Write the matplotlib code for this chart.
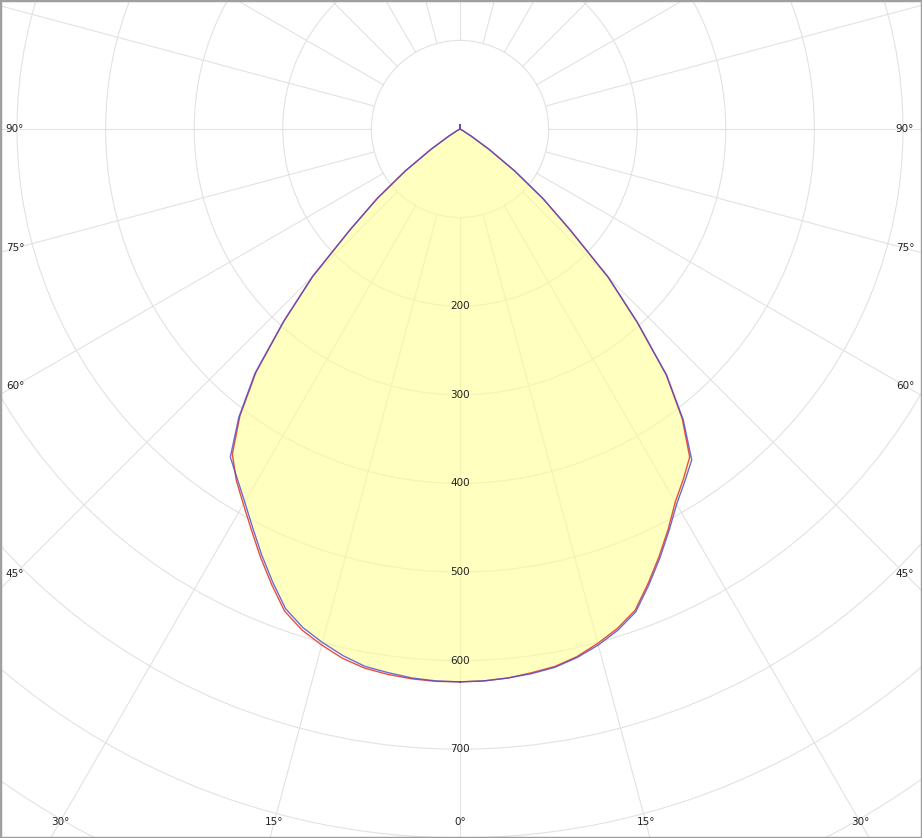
import numpy as np
import matplotlib.pyplot as plt
from matplotlib.patches import Circle

# luminous intensity (cd) vs gamma angle (2.5 deg steps), four half-planes
gamma = np.arange(0, 182.5, 2.5)
tail = [0] * 46 + [5]
c0 = [624, 623.5, 622, 619, 616, 610, 601, 591, 578, 555, 532, 509, 486,
      469, 452, 412, 362, 296, 236, 168, 122, 78, 40, 15, 4, 1] + tail
c180 = [624, 624, 623, 621, 618, 612, 603, 593, 579, 556, 533, 510, 489,
        470, 448, 408, 358, 294, 235, 168, 122, 78, 40, 15, 4, 1] + tail
c90 = [624, 623.5, 622, 620, 617, 611, 603, 593, 580, 557, 534, 511, 489,
       472, 456, 414, 363, 297, 237, 169, 123, 78, 40, 15, 4, 1] + tail
c270 = [624, 623.5, 622, 619, 616, 609, 600, 590, 576, 553, 530, 507, 486,
        468, 452, 410, 360, 295, 235, 168, 122, 78, 40, 15, 4, 1] + tail

ring_vals = [200, 300, 400, 500, 600, 700]
side_angles = [90, 75, 60, 45]
bottom_angles = [30, 15, 0]

scale = 0.886  # px per cd
W, H = 922, 838
cx, cy = 460, 129

fig = plt.figure(figsize=(W / 100, H / 100), dpi=100)
ax = fig.add_axes([0, 0, 1, 1])
ax.set_xlim(-cx / scale, (W - cx) / scale)
ax.set_ylim(-(H - cy) / scale, cy / scale)
ax.set_aspect('equal')
ax.set_xticks([])
ax.set_yticks([])
for s in ax.spines.values():
    s.set_color('#a0a0a0')
    s.set_linewidth(2.5)

grid_c = '#e2e2e2'
for r in range(100, 1100, 100):
    ax.add_patch(Circle((0, 0), r, fill=False, ec=grid_c, lw=0.8, zorder=1))
for a in range(0, 360, 15):
    t = np.radians(a)
    ax.plot([100 * np.sin(t), 1200 * np.sin(t)], [-100 * np.cos(t), -1200 * np.cos(t)],
            color=grid_c, lw=0.8, zorder=1)


def outline(right, left):
    g = np.radians(gamma)
    r1 = np.array(right, float)
    r2 = np.array(left, float)
    x = np.concatenate([r1 * np.sin(g), -r2[::-1] * np.sin(g[::-1])])
    y = np.concatenate([-r1 * np.cos(g), -r2[::-1] * np.cos(g[::-1])])
    return x, y


xr, yr = outline(c0, c180)
xb, yb = outline(c90, c270)
ax.fill(xb, yb, color=(1, 1, 0.59), alpha=0.6, lw=0, zorder=2)
ax.plot(xr, yr, color='#e8503a', lw=1.0, zorder=3)
ax.plot(xb, yb, color='#4848d8', lw=1.0, alpha=0.8, zorder=4)

tc = '#222222'
for r in ring_vals:
    ax.text(0, -r, str(r), ha='center', va='center', fontsize=7.5, color=tc, zorder=5)

xs = (cx - 15) / scale
for a in side_angles:
    y = -xs / np.tan(np.radians(a)) if a != 90 else 0
    ax.text(-xs, y, f'{a}°', ha='center', va='center', fontsize=7.5, color=tc, zorder=5)
    ax.text(xs, y, f'{a}°', ha='center', va='center', fontsize=7.5, color=tc, zorder=5)

yb_lab = -(822 - cy) / scale
for a in bottom_angles:
    x = -yb_lab * np.tan(np.radians(a))
    ax.text(-x, yb_lab, f'{a}°', ha='center', va='center', fontsize=7.5, color=tc, zorder=5)
    if a != 0:
        ax.text(x, yb_lab, f'{a}°', ha='center', va='center', fontsize=7.5, color=tc, zorder=5)

fig.savefig('out.png', dpi=100)
